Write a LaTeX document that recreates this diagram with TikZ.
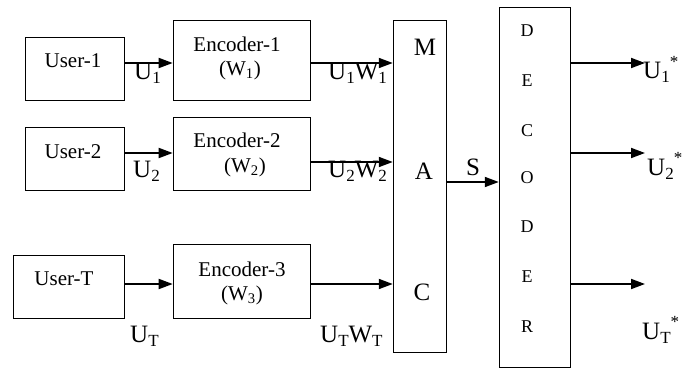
\documentclass[tikz,border=0pt]{standalone}
\usepackage{fontspec}
\setmainfont{Liberation Serif}
\usetikzlibrary{arrows.meta}
\newcommand\fs[1]{\fontsize{#1}{#1}\selectfont}
\newcommand\lowsub[1]{\raisebox{-4pt}{\fs{17}#1}}
\newcommand\starsup{\raisebox{12pt}{\fs{17}*}}
\begin{document}
\begin{tikzpicture}[x=1pt,y=-1pt,
  box/.style={draw, line width=1.6pt, inner sep=0pt},
  tall/.style={draw, line width=1.5pt, inner sep=0pt},
  conn/.style={line width=1.8pt, -{Triangle[length=14pt,width=10pt]}},
  boxtext/.style={inner sep=0pt, font=\fs{21}},
  sig/.style={inner sep=0pt, anchor=base west, font=\fs{25}},
  maclet/.style={inner sep=0pt, font=\fs{25}},
  declet/.style={inner sep=0pt, font=\fs{18}}]
\useasboundingbox (0,0) rectangle (683,369);

% source and encoder blocks
\node[box, minimum width=99, minimum height=63] (u1) at (75,69) {};
\node[box, minimum width=137, minimum height=80] (e1) at (242,60.5) {};
\node[box, minimum width=99, minimum height=63] (u2) at (75,159) {};
\node[box, minimum width=137, minimum height=73] (e2) at (242,154) {};
\node[box, minimum width=111, minimum height=63] (uT) at (69,287) {};
\node[box, minimum width=137, minimum height=74] (e3) at (242,281.5) {};

% channel and decoder
\node[tall, minimum width=53, minimum height=332] (mac) at (420,186.5) {};
\node[tall, minimum width=71, minimum height=360] (dec) at (535,187.5) {};

% block captions
\node[boxtext] (tu1) at (73,61) {User-1};
\node[boxtext] (tu2) at (73,152) {User-2};
\node[boxtext] (tuT) at (64,279) {User-T};
\node[boxtext] (te1) at (237,44) {Encoder-1};
\node[boxtext] (tw1) at (240,70) {(W\textsubscript{1})};
\node[boxtext] (te2) at (237,140) {Encoder-2};
\node[boxtext] (tw2) at (245,167) {(W\textsubscript{2})};
\node[boxtext] (te3) at (242,269) {Encoder-3};
\node[boxtext] (tw3) at (242,295) {(W\textsubscript{3})};

\node[maclet] (mM) at (425,47) {M};
\node[maclet] (mA) at (424,171) {A};
\node[maclet] (mC) at (422,292) {C};

\node[declet] (d1) at (527,31) {D};
\node[declet] (d2) at (527,81) {E};
\node[declet] (d3) at (527,131) {C};
\node[declet] (d4) at (527,178) {O};
\node[declet] (d5) at (527,227) {D};
\node[declet] (d6) at (527,277) {E};
\node[declet] (d7) at (527,327) {R};

% connectors
\coordinate (o1) at (645,63);
\coordinate (o2) at (645,153);
\coordinate (oT) at (645,284);

\draw[conn] (u1.east |- 0,63) -- (e1.west |- 0,63);
\draw[conn] (u2.east |- 0,153) -- (e2.west |- 0,153);
\draw[conn] (uT.east |- 0,284) -- (e3.west |- 0,284);
\draw[conn] (e1.east |- 0,63) -- (mac.west |- 0,63);
\draw[conn] (e2.east |- 0,162) -- (mac.west |- 0,162);
\draw[conn] (e3.east |- 0,284) -- (mac.west |- 0,284);
\draw[conn] (mac.east |- 0,182) -- (dec.west |- 0,182);
\draw[conn] (dec.east |- o1) -- (o1);
\draw[conn] (dec.east |- o2) -- (o2);
\draw[conn] (dec.east |- oT) -- (oT);

% signal labels
\node[sig] (lu1) at (134,80) {U\lowsub{1}};
\node[sig] (lu2) at (133,177) {U\lowsub{2}};
\node[sig] (luT) at (130,342) {U\lowsub{T}};
\node[sig] (lw1) at (328,80) {U\lowsub{1}W\lowsub{1}};
\node[sig] (lw2) at (328,177) {U\lowsub{2}W\lowsub{2}};
\node[sig] (lwT) at (320,342) {U\lowsub{T}W\lowsub{T}};
\node[sig] (ls) at (466,175) {S};
\node[sig] (lo1) at (643,79) {U\lowsub{1}\starsup};
\node[sig] (lo2) at (647,175) {U\lowsub{2}\starsup};
\node[sig] (loT) at (642,339) {U\lowsub{T}\starsup};
\end{tikzpicture}
\end{document}
